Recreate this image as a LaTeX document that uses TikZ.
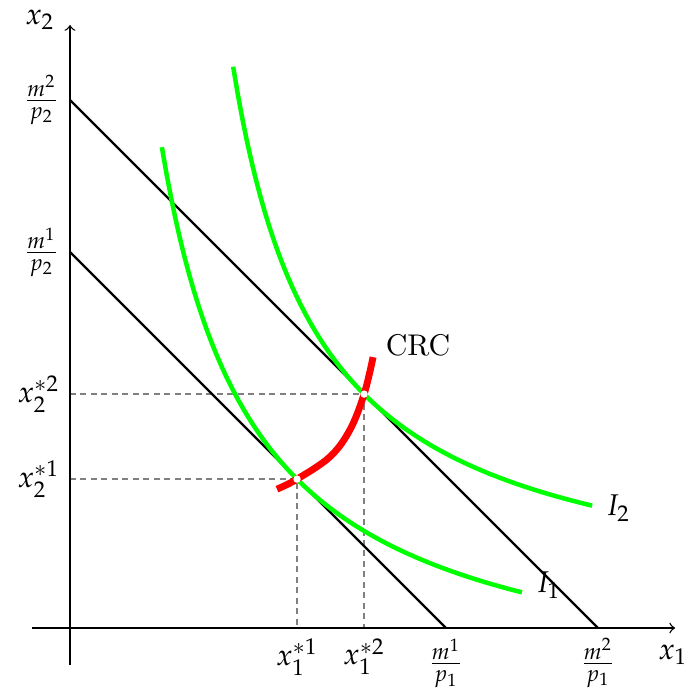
\documentclass[tikz,border=0pt]{standalone}
\usepackage{amsmath}
\usepackage{mathpazo}
\usepackage{tikz}

\begin{document}
\begin{tikzpicture}[x=0.62cm,y=0.62cm,
    axis/.style={line width=0.45pt,->},
    budget/.style={line width=0.75pt},
    guide/.style={gray,line width=0.5pt,dash pattern=on 2pt off 1.5pt},
    indiff/.style={green,line width=1.5pt},
    crc/.style={red,line width=2.3pt}]
    \useasboundingbox (-1.326,-1.231) rectangle (11.686,11.894);

    \coordinate (O) at (0,0);
    \coordinate (xmin) at (-0.72,0);
    \coordinate (xmax) at (11.46,0);
    \coordinate (ymin) at (0,-0.7);
    \coordinate (ymax) at (0,11.42);
    \coordinate (A1) at (0,7.12);
    \coordinate (B1) at (7.12,0);
    \coordinate (A2) at (0,10);
    \coordinate (B2) at (10,0);
    \coordinate (E1) at (4.30,2.82);
    \coordinate (E2) at (5.57,4.43);
    \coordinate (E1x) at (4.30,0);
    \coordinate (E1y) at (0,2.82);
    \coordinate (E2x) at (5.57,0);
    \coordinate (E2y) at (0,4.43);

    % axes
    \draw[axis] (xmin) -- (xmax);
    \draw[axis] (ymin) -- (ymax);

    % optimal bundles
    \draw[guide] (E1y) -- (E1) -- (E1x);
    \draw[guide] (E2y) -- (E2) -- (E2x);

    % budget lines
    \draw[budget] (A1) -- (B1);
    \draw[budget] (A2) -- (B2);
    \draw[budget] (A2) -- (O) -- (B2);

    % indifference curves
    \draw[indiff] plot[domain=1.74:8.56,samples=80] (\x,{18.63/(\x+0.017)-1.497});
    \draw[indiff] plot[domain=3.09:9.89,samples=80] (\x,{17.08/(\x-1.437)+0.297});

    % consumption response curve
    \draw[crc] plot[smooth,tension=0.6] coordinates
        {(3.92,2.63) (E1) (4.92,3.24) (5.30,3.75) (E2) (5.74,5.13)};
    \fill[white] (E1) circle (0.07);
    \fill[white] (E2) circle (0.07);

    \node (x2lab) at (-0.57,11.52) {$x_2$};
    \node (x1lab) at (11.42,-0.51) {$x_1$};
    \node[anchor=east] (A2lab) at (A2) {$\frac{m^2}{p_2}$};
    \node[anchor=east] (A1lab) at (A1) {$\frac{m^1}{p_2}$};
    \node[anchor=east] (E2ylab) at (E2y) {$x_2^{*2}$};
    \node[anchor=east] (E1ylab) at (E1y) {$x_2^{*1}$};
    \node[anchor=north] (E1xlab) at (E1x) {$x_1^{*1}$};
    \node[anchor=north] (E2xlab) at (E2x) {$x_1^{*2}$};
    \node[anchor=north] (B1lab) at (B1) {$\frac{m^1}{p_1}$};
    \node[anchor=north] (B2lab) at (B2) {$\frac{m^2}{p_1}$};
    \node[anchor=west] (crclab) at (5.78,5.36) {CRC};
    \node[anchor=west] (I2lab) at (9.95,2.27) {$I_2$};
    \node[anchor=west] (I1lab) at (8.63,0.81) {$I_1$};
\end{tikzpicture}
\end{document}
